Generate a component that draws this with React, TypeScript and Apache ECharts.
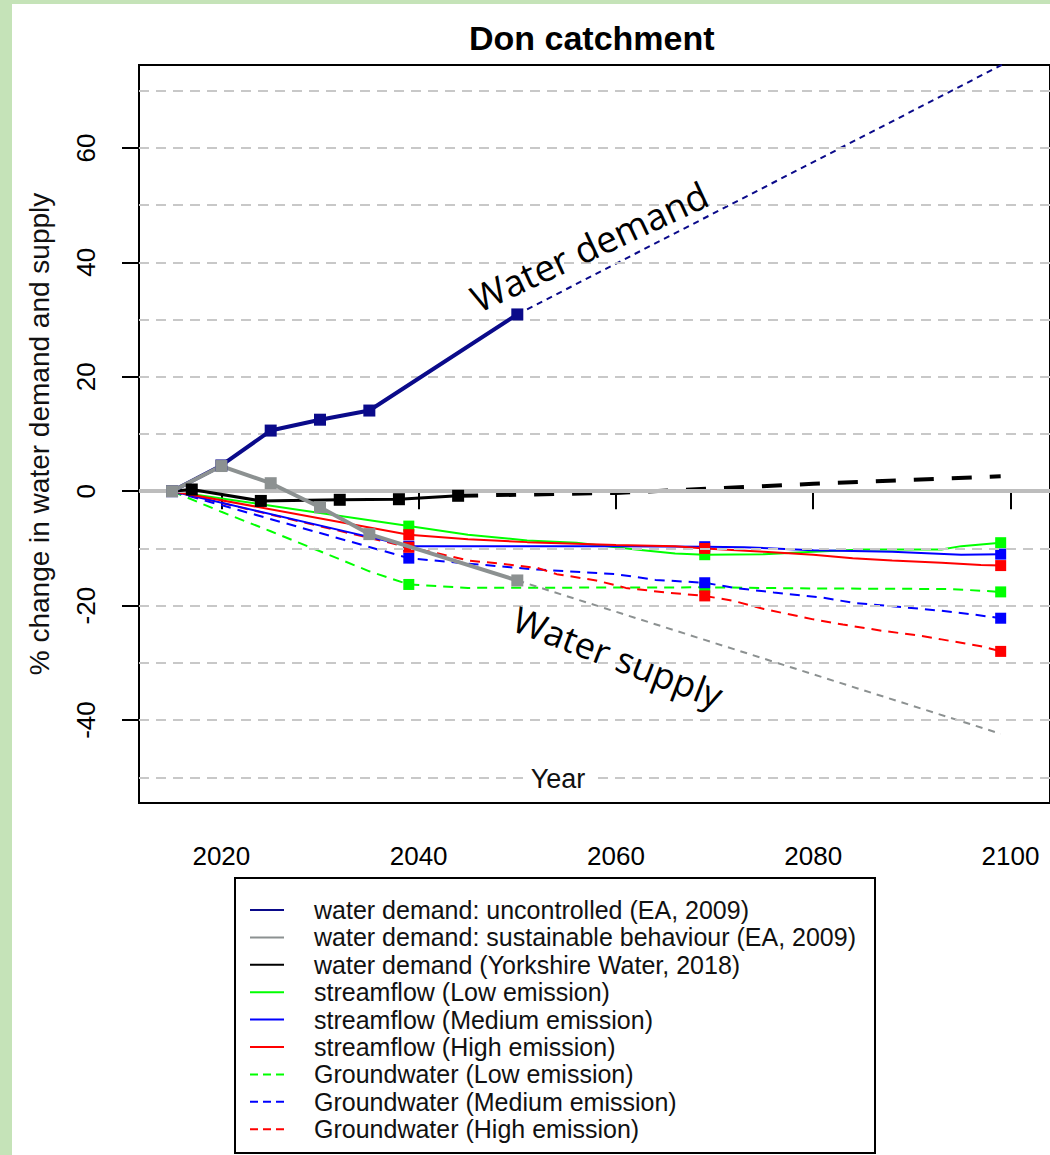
import React, { useEffect, useRef } from "react";
import * as echarts from "echarts";

// ---- axes ----
const xMin = 2011.65;
const xMax = 2104;
const yMin = -54.5;
const yMax = 74.5;
const xTickValues = [2020, 2040, 2060, 2080, 2100];
const yTickValues = [-40, -20, 0, 20, 40, 60];
const yGridValues = [-50, -40, -30, -20, -10, 10, 20, 30, 40, 50, 60, 70];

// ---- water demand ----
const uncontrolledYears = [2015, 2020, 2025, 2030, 2035, 2050];
const uncontrolledValues = [0, 4.5, 10.6, 12.5, 14.1, 30.9];
const uncontrolledProjYears = [2050, 2100];
const uncontrolledProjValues = [30.9, 75.3];

const sustainableYears = [2015, 2020, 2025, 2030, 2035, 2050];
const sustainableValues = [0, 4.4, 1.4, -2.8, -7.5, -15.6];
const sustainableProjYears = [2050, 2099];
const sustainableProjValues = [-15.6, -42.4];

const yorkshireYears = [2015, 2017, 2024, 2032, 2038, 2044];
const yorkshireValues = [0, 0.3, -1.7, -1.5, -1.4, -0.8];
const yorkshireMarkerYears = [2017, 2024, 2032, 2038, 2044];
const yorkshireProjYears = [2044, 2060, 2080, 2099];
const yorkshireProjValues = [-0.8, -0.3, 1.3, 2.6];

// ---- water supply ----
const sfLowYears = [2015, 2039, 2045, 2051, 2056, 2062, 2066, 2069, 2075, 2080, 2085, 2093, 2095, 2099];
const sfLowValues = [0, -6.1, -7.6, -8.6, -9.0, -10.2, -10.9, -11.1, -11.0, -10.6, -10.2, -10.2, -9.6, -9.0];

const sfMedYears = [2015, 2039, 2060, 2069, 2073, 2080, 2088, 2095, 2099];
const sfMedValues = [0, -9.6, -9.6, -9.7, -9.8, -10.3, -10.6, -11.1, -11.0];

const sfHighYears = [2015, 2039, 2045, 2051, 2060, 2066, 2069, 2075, 2080, 2084, 2088, 2093, 2097, 2099];
const sfHighValues = [0, -7.6, -8.4, -8.9, -9.4, -9.6, -10.0, -10.6, -11.1, -11.7, -12.1, -12.5, -12.9, -13.0];

const gwLowYears = [2015, 2020, 2025, 2030, 2035, 2039, 2045, 2069, 2080, 2094, 2099];
const gwLowValues = [0, -3.6, -7.0, -10.5, -14.0, -16.3, -16.9, -16.8, -17.0, -17.1, -17.6];

const gwMedYears = [2015, 2039, 2044, 2052, 2060, 2064, 2069, 2072, 2076, 2081, 2084, 2088, 2093, 2096, 2099];
const gwMedValues = [0, -11.7, -12.5, -13.7, -14.5, -15.5, -16.0, -16.9, -17.7, -18.6, -19.5, -20.1, -20.9, -21.5, -22.2];

const gwHighYears = [2015, 2039, 2042, 2045, 2049, 2052, 2054, 2058, 2061, 2065, 2069, 2072, 2075, 2080, 2083, 2087, 2091, 2093, 2097, 2099];
const gwHighValues = [0, -9.8, -10.9, -12.1, -12.8, -13.4, -14.5, -15.6, -16.9, -17.7, -18.3, -19.2, -20.6, -22.4, -23.3, -24.4, -25.3, -25.9, -27.1, -28.0];

const supplyMarkerYears = [2039, 2069, 2099];

const legendNames = [
  "water demand: uncontrolled (EA, 2009)",
  "water demand: sustainable behaviour (EA, 2009)",
  "water demand (Yorkshire Water, 2018)",
  "streamflow (Low emission)",
  "streamflow (Medium emission)",
  "streamflow (High emission)",
  "Groundwater (Low emission)",
  "Groundwater (Medium emission)",
  "Groundwater (High emission)",
];

const FONT = "'Liberation Sans', Arial, sans-serif";
const NAVY = "#0a0a8a";
const GRAY = "#8c9191";
const BLACK = "#000000";
const GREEN = "#00ff00";
const BLUE = "#0000ff";
const RED = "#ff0000";

const legendColors = [NAVY, GRAY, BLACK, GREEN, BLUE, RED, GREEN, BLUE, RED];
const legendDashed = [false, false, false, false, false, false, true, true, true];

const zip = (xs: number[], ys: number[]) => xs.map((x, i) => [x, ys[i]]);
const pick = (xs: number[], ys: number[], want: number[]) =>
  want.map((w) => [w, ys[xs.indexOf(w)]]);

function lineSeries(name: string, data: number[][], color: string, width: number, dash: any, z: number) {
  return {
    name,
    type: "line",
    data,
    symbol: "none",
    silent: true,
    z,
    itemStyle: { color },
    lineStyle: { color, width, type: dash },
  };
}

function markerSeries(name: string, data: number[][], color: string, size: number, z: number) {
  return {
    name,
    type: "scatter",
    data,
    symbol: "rect",
    symbolSize: size,
    silent: true,
    z,
    itemStyle: { color, opacity: 1 },
  };
}

function buildLegend() {
  const boxX = 235;
  const boxY = 878;
  const firstRow = 910;
  const pitch = 27.4;
  const children: any[] = [
    {
      type: "rect",
      shape: { x: boxX, y: boxY, width: 640, height: 275 },
      style: { fill: "#fff", stroke: "#000", lineWidth: 2 },
    },
  ];
  legendNames.forEach((name, i) => {
    const y = firstRow + i * pitch;
    children.push({
      type: "line",
      shape: { x1: 250, y1: y, x2: 284, y2: y },
      style: {
        stroke: legendColors[i],
        lineWidth: 2,
        lineDash: legendDashed[i] ? [8, 5] : null,
      },
    });
    children.push({
      type: "text",
      x: 314,
      y,
      style: {
        text: name,
        fontFamily: FONT,
        fontSize: 25,
        fill: "#111",
        align: "left",
        verticalAlign: "middle",
      },
    });
  });
  return { type: "group", silent: true, z: 30, children };
}

export default function App() {
  const ref = useRef<HTMLDivElement>(null);

  useEffect(() => {
    const chart = echarts.init(ref.current!, null, { renderer: "svg" });

    const supplyDash = [10, 7];
    const option: any = {
      animation: false,
      backgroundColor: "#ffffff",
      title: {
        text: "Don catchment",
        left: 464,
        top: 16,
        textStyle: { fontFamily: FONT, fontSize: 34, fontWeight: "bold", color: "#000" },
      },
      grid: {
        left: 139,
        top: 65,
        width: 918,
        height: 738,
        show: true,
        borderColor: "#000",
        borderWidth: 2,
        backgroundColor: "transparent",
      },
      xAxis: {
        type: "value",
        min: xMin,
        max: xMax,
        axisLine: { show: false },
        axisTick: {
          show: true,
          customValues: xTickValues,
          length: 18,
          inside: false,
          lineStyle: { color: "#000", width: 2 },
        },
        axisLabel: {
          customValues: xTickValues,
          formatter: (v: number) => String(v),
          fontFamily: FONT,
          fontSize: 26,
          color: "#000",
          margin: 40,
        },
        splitLine: { show: false },
      },
      yAxis: {
        type: "value",
        min: yMin,
        max: yMax,
        name: "% change in water demand and supply",
        nameLocation: "middle",
        nameRotate: 90,
        nameGap: 86,
        nameTextStyle: { fontFamily: FONT, fontSize: 28, color: "#111" },
        axisLine: { show: false },
        axisTick: {
          show: true,
          customValues: yTickValues,
          length: 17,
          lineStyle: { color: "#000", width: 2 },
        },
        axisLabel: {
          customValues: yTickValues,
          formatter: (v: number) => String(v),
          rotate: 90,
          fontFamily: FONT,
          fontSize: 26,
          color: "#000",
          margin: 40,
        },
        splitLine: { show: false },
      },
      series: [
        {
          name: "gridlines",
          type: "line",
          data: [],
          silent: true,
          z: 1,
          markLine: {
            silent: true,
            symbol: "none",
            animation: false,
            label: { show: false },
            lineStyle: { color: "#c8c8c8", width: 2, type: [10, 7] },
            data: [
              ...yGridValues.map((v) => ({ yAxis: v })),
              { yAxis: 0, lineStyle: { color: "#bdbdbd", width: 4, type: "solid" } },
            ],
          },
        },
        // supply
        lineSeries(legendNames[6], zip(gwLowYears, gwLowValues), GREEN, 2, supplyDash, 2),
        lineSeries(legendNames[7], zip(gwMedYears, gwMedValues), BLUE, 2, supplyDash, 2),
        lineSeries(legendNames[8], zip(gwHighYears, gwHighValues), RED, 2, supplyDash, 2),
        lineSeries(legendNames[3], zip(sfLowYears, sfLowValues), GREEN, 2, "solid", 2),
        lineSeries(legendNames[4], zip(sfMedYears, sfMedValues), BLUE, 2, "solid", 2),
        lineSeries(legendNames[5], zip(sfHighYears, sfHighValues), RED, 2, "solid", 2),
        markerSeries("m-gw-low", pick(gwLowYears, gwLowValues, supplyMarkerYears), GREEN, 11, 3),
        markerSeries("m-gw-med", pick(gwMedYears, gwMedValues, supplyMarkerYears), BLUE, 11, 3),
        markerSeries("m-sf-low", pick(sfLowYears, sfLowValues, supplyMarkerYears), GREEN, 11, 3),
        markerSeries("m-sf-med", pick(sfMedYears, sfMedValues, supplyMarkerYears), BLUE, 11, 3),
        markerSeries("m-gw-high", pick(gwHighYears, gwHighValues, supplyMarkerYears), RED, 11, 3),
        markerSeries("m-sf-high", pick(sfHighYears, sfHighValues, supplyMarkerYears), RED, 11, 3),
        // demand projections
        lineSeries("p-yorkshire", zip(yorkshireProjYears, yorkshireProjValues), BLACK, 4, [20, 18], 4),
        lineSeries("p-uncontrolled", zip(uncontrolledProjYears, uncontrolledProjValues), NAVY, 2, [6, 5], 4),
        lineSeries("p-sustainable", zip(sustainableProjYears, sustainableProjValues), GRAY, 2, [7, 6], 4),
        // demand
        lineSeries(legendNames[2], zip(yorkshireYears, yorkshireValues), BLACK, 3, "solid", 5),
        lineSeries(legendNames[0], zip(uncontrolledYears, uncontrolledValues), NAVY, 4, "solid", 5),
        lineSeries(legendNames[1], zip(sustainableYears, sustainableValues), GRAY, 4, "solid", 6),
        markerSeries("m-yorkshire", pick(yorkshireYears, yorkshireValues, yorkshireMarkerYears), BLACK, 12, 6),
        markerSeries("m-uncontrolled", zip(uncontrolledYears, uncontrolledValues), NAVY, 12, 6),
        markerSeries("m-sustainable", zip(sustainableYears, sustainableValues), GRAY, 12, 7),
      ],
      graphic: [
        { type: "rect", shape: { x: 0, y: 0, width: 12, height: 1155 }, style: { fill: "#c5e3b8" }, silent: true },
        { type: "rect", shape: { x: 0, y: 0, width: 1050, height: 4 }, style: { fill: "#c5e3b8" }, silent: true },
        {
          type: "text",
          x: 589,
          y: 246,
          rotation: (25 * Math.PI) / 180,
          z: 20,
          style: {
            text: "Water demand",
            fontFamily: "'Open Sans', sans-serif",
            fontSize: 37,
            fill: "#000",
            align: "center",
            verticalAlign: "middle",
          },
        },
        {
          type: "text",
          x: 618,
          y: 657,
          rotation: (-21 * Math.PI) / 180,
          z: 20,
          style: {
            text: "Water supply",
            fontFamily: "'Open Sans', sans-serif",
            fontSize: 36,
            fill: "#000",
            align: "center",
            verticalAlign: "middle",
          },
        },
        {
          type: "text",
          x: 558,
          y: 779,
          z: 20,
          style: {
            text: "Year",
            fontFamily: FONT,
            fontSize: 27,
            fill: "#111",
            align: "center",
            verticalAlign: "middle",
            backgroundColor: "#fff",
            padding: [0, 6],
          },
        },
        buildLegend(),
      ],
    };

    chart.setOption(option);
    return () => chart.dispose();
  }, []);

  return (
    <div
      ref={ref}
      style={{ position: "absolute", left: 0, top: 0, width: 1050, height: 1155, background: "#fff" }}
    />
  );
}
